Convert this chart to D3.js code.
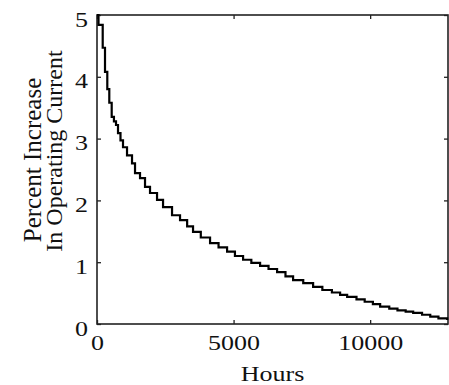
<!DOCTYPE html>
<html>
<head>
<meta charset="utf-8">
<script src="https://cdn.jsdelivr.net/npm/d3@7"></script>
<style>
  body { margin: 0; background: #fff; }
  svg { display: block; }
</style>
</head>
<body>
<div id="chart"></div>
<script>
// staircase: hours -> percent increase
const hours = [0, 55, 209, 293, 377, 450, 538, 620, 696, 769, 860, 952, 1099, 1282, 1392, 1575,
    1758, 1941, 2198, 2418, 2747, 3040, 3300, 3516, 3800, 4139, 4450, 4762, 5050, 5348, 5650,
    5971, 6280, 6593, 6900, 7179, 7550, 7912, 8250, 8600, 8900, 9158, 9500, 9800, 10100, 10366,
    10700, 11000, 11300, 11575, 11900, 12200, 12500, 12820];
const increase = [5.0, 4.84, 4.47, 4.08, 3.80, 3.58, 3.35, 3.28, 3.22, 3.09, 2.97, 2.86, 2.73, 2.60, 2.44, 2.36,
    2.22, 2.12, 2.01, 1.89, 1.76, 1.68, 1.58, 1.49, 1.40, 1.31, 1.24, 1.17, 1.10, 1.04, 0.99,
    0.94, 0.89, 0.84, 0.77, 0.71, 0.66, 0.60, 0.55, 0.51, 0.47, 0.44, 0.40, 0.36, 0.32, 0.28,
    0.25, 0.22, 0.20, 0.18, 0.15, 0.12, 0.09, 0.065];
const xTicks = [0, 5000, 10000];
const yTicks = [0, 1, 2, 3, 4, 5];
const xMax = 12850;

const width = 449, height = 385;
const margin = { top: 15, right: 1, bottom: 61, left: 97 };
const w = width - margin.left - margin.right;
const h = height - margin.top - margin.bottom;

const svg = d3.select('#chart').append('svg')
    .attr('width', width)
    .attr('height', height);
const g = svg.append('g')
    .attr('transform', `translate(${margin.left},${margin.top})`);

const x = d3.scaleLinear().domain([0, xMax]).range([0, w]);
const y = d3.scaleLinear().domain([0, 5]).range([h, 0]);

const font = '"Liberation Serif", "Times New Roman", serif';

// bottom axis with inward ticks
const xAxis = g.append('g')
    .attr('transform', `translate(0,${h})`)
    .call(d3.axisBottom(x).tickValues(xTicks).tickFormat(d3.format('d'))
        .tickSize(-4).tickPadding(12).tickSizeOuter(0));
xAxis.selectAll('text')
    .attr('font-family', font)
    .attr('font-size', 20)
    .attr('fill', '#111')
    .attr('transform', 'scale(1.3,1)');

// top axis, ticks only
g.append('g')
    .call(d3.axisTop(x).tickValues(xTicks).tickSize(-4).tickFormat('').tickSizeOuter(0));

// left axis
const yAxis = g.append('g')
    .call(d3.axisLeft(y).tickValues(yTicks).tickFormat(d3.format('d'))
        .tickSize(-4).tickPadding(7).tickSizeOuter(0));
yAxis.selectAll('text')
    .attr('font-family', font)
    .attr('font-size', 20)
    .attr('fill', '#111')
    .attr('dy', '0.55em')
    .attr('transform', 'scale(1.3,1)');

// right axis, ticks only
g.append('g')
    .attr('transform', `translate(${w},0)`)
    .call(d3.axisRight(y).tickValues(yTicks).tickSize(-4).tickFormat('').tickSizeOuter(0));

g.selectAll('.domain').remove();
g.selectAll('.tick line').attr('stroke', '#222').attr('stroke-width', 1.3);

// frame
g.append('rect')
    .attr('width', w)
    .attr('height', h)
    .attr('fill', 'none')
    .attr('stroke', '#222')
    .attr('stroke-width', 1.6);

// curve
const pts = hours.map((d, i) => [d, increase[i]]);
g.append('path')
    .datum(pts)
    .attr('fill', 'none')
    .attr('stroke', '#000')
    .attr('stroke-width', 2.2)
    .attr('d', d3.line().x(d => x(d[0])).y(d => y(d[1])).curve(d3.curveStepAfter));

// axis titles
const cx = margin.left + w / 2;
svg.append('text')
    .attr('x', cx)
    .attr('y', 381)
    .attr('text-anchor', 'middle')
    .attr('font-family', font)
    .attr('font-size', 20)
    .attr('fill', '#111')
    .attr('transform', `translate(${cx},0) scale(1.3,1) translate(${-cx},0)`)
    .text('Hours');

const yl = svg.append('text')
    .attr('transform', 'translate(0,160) rotate(-90)')
    .attr('text-anchor', 'middle')
    .attr('font-family', font)
    .attr('font-size', 25)
    .attr('fill', '#111');
yl.append('tspan').attr('x', 0).attr('y', 41).text('Percent Increase');
yl.append('tspan').attr('x', 9).attr('y', 62).attr('font-size', 24).text('In Operating Current');
</script>
</body>
</html>
